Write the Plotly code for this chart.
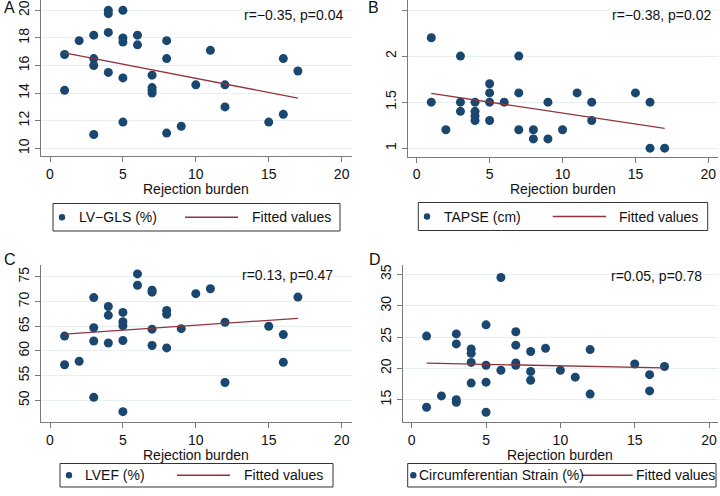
import numpy as np
import plotly.graph_objects as go

# ---------------- data ----------------
burden_A = [1, 1, 2, 3, 3, 3, 3, 4, 4, 4, 4, 5, 5, 5, 5, 5, 6, 6, 7, 7, 7, 7,
            8, 8, 8, 9, 10, 11, 12, 12, 15, 16, 16, 17]
lvgls = [16.8, 14.2, 17.8, 18.2, 16.5, 16.0, 11.0, 20.0, 19.76, 18.4, 15.5,
         20.0, 18.0, 17.7, 15.1, 11.9, 18.2, 17.5, 15.3, 14.4, 14.2, 14.0,
         17.8, 16.5, 11.1, 11.6, 14.6, 17.1, 14.6, 13.0, 11.9, 16.5, 12.46, 15.6]

burden_B = [1, 1, 2, 3, 3, 3, 4, 4, 4, 4, 5, 5, 5, 5, 6, 7, 7, 7, 8, 8, 9, 9,
            10, 11, 12, 12, 15, 16, 16, 17]
tapse = [2.2, 1.5, 1.2, 2.0, 1.5, 1.4, 1.5, 1.4, 1.35, 1.3, 1.7, 1.6, 1.5, 1.3,
         1.5, 2.0, 1.6, 1.2, 1.2, 1.1, 1.5, 1.1, 1.2, 1.6, 1.5, 1.3, 1.6, 1.5,
         1.0, 1.0]

burden_C = [1, 1, 2, 3, 3, 3, 3, 4, 4, 4, 5, 5, 5, 5, 5, 6, 6, 7, 7, 7, 7,
            8, 8, 8, 9, 10, 11, 12, 12, 15, 16, 16, 17]
lvef = [63.0, 57.2, 57.9, 70.8, 64.7, 62.0, 50.6, 69.0, 67.2, 61.6, 67.8, 65.9,
        65.1, 62.1, 47.7, 75.6, 73.3, 72.3, 71.9, 64.4, 61.1, 68.2, 67.4, 60.6,
        64.5, 71.6, 72.6, 65.8, 53.6, 65.0, 63.3, 57.7, 70.9]

burden_D = [1, 1, 2, 3, 3, 3, 3, 4, 4, 4, 4, 5, 5, 5, 5, 6, 6, 7, 7, 7, 7,
            8, 8, 8, 9, 10, 11, 12, 12, 15, 16, 16, 17]
circ = [25.15, 13.8, 15.6, 25.5, 23.9, 15.0, 14.6, 23.1, 22.4, 20.95, 17.65,
        26.95, 20.5, 17.8, 13.0, 34.5, 19.7, 25.85, 23.7, 20.85, 20.5, 22.7,
        19.5, 18.1, 23.2, 19.7, 18.6, 23.0, 15.9, 20.7, 19.0, 16.4, 20.3]

series_names = ["LV−GLS (%)", "TAPSE (cm)", "LVEF (%)", "Circumferentian Strain (%)"]
stats_text = ["r=−0.35, p=0.04", "r=−0.38, p=0.02", "r=0.13, p=0.47", "r=0.05, p=0.78"]
panel_letters = ["A", "B", "C", "D"]
x_ticks = [0, 5, 10, 15, 20]
y_ticks_A = [10, 12, 14, 16, 18, 20]
y_ticks_B = [1, 1.5, 2, 2.5]
y_ticks_C = [50, 55, 60, 65, 70, 75]
y_ticks_D = [15, 20, 25, 30, 35]

# ---------------- style ----------------
W, H = 720, 496
NAVY = "#1A476F"
MAROON = "#90353B"
GRID = "#E8EFF3"
AXC = "#7A7A7A"
FONT = "Liberation Sans, Arial, Helvetica, sans-serif"


def fx(p):
    return p / W


def fy(p):
    return 1 - p / H


panels = [
    dict(x=burden_A, y=lvgls, name=series_names[0], yt=y_ticks_A,
         xd=(41, 352), yd=(0, 156), xr=(-0.617, 20.71), yr=(9.44, 20.75)),
    dict(x=burden_B, y=tapse, name=series_names[1], yt=y_ticks_B,
         xd=(407.7, 718), yd=(0, 156.5), xr=(-0.617, 20.66), yr=(0.909, 2.61)),
    dict(x=burden_C, y=lvef, name=series_names[2], yt=y_ticks_C,
         xd=(41, 352), yd=(265, 422), xr=(-0.617, 20.71), yr=(45.6, 77.4)),
    dict(x=burden_D, y=circ, name=series_names[3], yt=y_ticks_D,
         xd=(402.7, 718), yd=(265, 422), xr=(-0.605, 20.6), yr=(11.44, 36.5)),
]

# legend layout (pixels): box, dot x, label x, line x0-x1, fitted label x
legends = [
    dict(box=(53, 203.5, 340, 231), dot=62, lab=77, ln=(185, 238), fit=250),
    dict(box=(418.3, 202.5, 707.7, 230.5), dot=427, lab=441.7, ln=(552.7, 606), fit=616.7),
    dict(box=(60, 463.5, 333, 487), dot=69, lab=83, ln=(177, 230), fit=242),
    dict(box=(407.7, 463.5, 716, 487), dot=413.3, lab=416.7, ln=(581.7, 632.7), fit=634.3),
]
letter_pos = [(2, 8), (366, 8), (2, 259), (367, 259)]
stat_pos = [(345, 15), (712.7, 15), (335, 275), (704, 276)]
xtitle_y = [189, 189, 454.5, 454.5]

fig = go.Figure()
shapes = []
annotations = []

for i, p in enumerate(panels):
    k = "" if i == 0 else str(i + 1)
    xa, ya = "x" + k, "y" + k
    xs = np.array(p["x"], dtype=float)
    ys = np.array(p["y"], dtype=float)
    slope, icpt = np.polyfit(xs, ys, 1)
    fit_x = np.array([xs.min(), xs.max()])
    fit_y = icpt + slope * fit_x

    fig.add_trace(go.Scatter(x=xs, y=ys, mode="markers", name=p["name"],
                             marker=dict(color=NAVY, size=9),
                             xaxis=xa, yaxis=ya, showlegend=False,
                             cliponaxis=False))
    fig.add_trace(go.Scatter(x=fit_x, y=fit_y, mode="lines", name="Fitted values",
                             line=dict(color=MAROON, width=1.3),
                             xaxis=xa, yaxis=ya, showlegend=False))

    axis_common = dict(showline=True, linecolor=AXC, linewidth=1.2,
                       ticks="outside", ticklen=5, tickcolor=AXC, tickwidth=1.2,
                       zeroline=False, tickfont=dict(size=14, color="#111111", family=FONT))
    fig.layout["xaxis" + k] = dict(
        domain=[fx(p["xd"][0]), fx(p["xd"][1])], range=list(p["xr"]),
        anchor=ya, tickvals=x_ticks, showgrid=False, **axis_common)
    fig.layout["yaxis" + k] = dict(
        domain=[fy(p["yd"][1]), fy(p["yd"][0])], range=list(p["yr"]),
        anchor=xa, tickvals=p["yt"], tickangle=-90, showgrid=True,
        gridcolor=GRID, gridwidth=1, **axis_common)

    # x-axis title
    cx = (p["xd"][0] + p["xd"][1]) / 2
    annotations.append(dict(text="Rejection burden", xref="paper", yref="paper",
                            x=fx(cx), y=fy(xtitle_y[i]), xanchor="center", yanchor="middle",
                            showarrow=False, font=dict(size=14, color="#111111", family=FONT)))
    # panel letter
    lx, ly = letter_pos[i]
    annotations.append(dict(text=panel_letters[i], xref="paper", yref="paper",
                            x=fx(lx), y=fy(ly), xanchor="left", yanchor="middle",
                            showarrow=False, font=dict(size=16, color="#111111", family=FONT)))
    # statistics
    sx, sy = stat_pos[i]
    annotations.append(dict(text=stats_text[i], xref="paper", yref="paper",
                            x=fx(sx), y=fy(sy), xanchor="right", yanchor="middle",
                            showarrow=False, font=dict(size=14, color="#111111", family=FONT)))

    # legend box
    lg = legends[i]
    x0, y0, x1, y1 = lg["box"]
    cy = (y0 + y1) / 2
    shapes.append(dict(type="rect", xref="paper", yref="paper",
                       x0=fx(x0), x1=fx(x1), y0=fy(y1), y1=fy(y0),
                       line=dict(color="#333333", width=1), fillcolor="white"))
    r = 3.2
    shapes.append(dict(type="circle", xref="paper", yref="paper",
                       x0=fx(lg["dot"] - r), x1=fx(lg["dot"] + r),
                       y0=fy(cy + r), y1=fy(cy - r),
                       line=dict(color=NAVY, width=0), fillcolor=NAVY))
    shapes.append(dict(type="line", xref="paper", yref="paper",
                       x0=fx(lg["ln"][0]), x1=fx(lg["ln"][1]), y0=fy(cy), y1=fy(cy),
                       line=dict(color=MAROON, width=1.3)))
    annotations.append(dict(text=p["name"], xref="paper", yref="paper",
                            x=fx(lg["lab"]), y=fy(cy), xanchor="left", yanchor="middle",
                            showarrow=False, font=dict(size=14, color="#111111", family=FONT)))
    annotations.append(dict(text="Fitted values", xref="paper", yref="paper",
                            x=fx(lg["fit"]), y=fy(cy), xanchor="left", yanchor="middle",
                            showarrow=False, font=dict(size=14, color="#111111", family=FONT)))

fig.update_layout(width=W, height=H, margin=dict(l=0, r=0, t=0, b=0),
                  paper_bgcolor="white", plot_bgcolor="white",
                  font=dict(family=FONT, size=14, color="#111111"),
                  showlegend=False, shapes=shapes, annotations=annotations)

fig.write_html("out.html", config={"displayModeBar": False},
               post_script="document.body.style.margin='0';document.body.style.padding='0';")
